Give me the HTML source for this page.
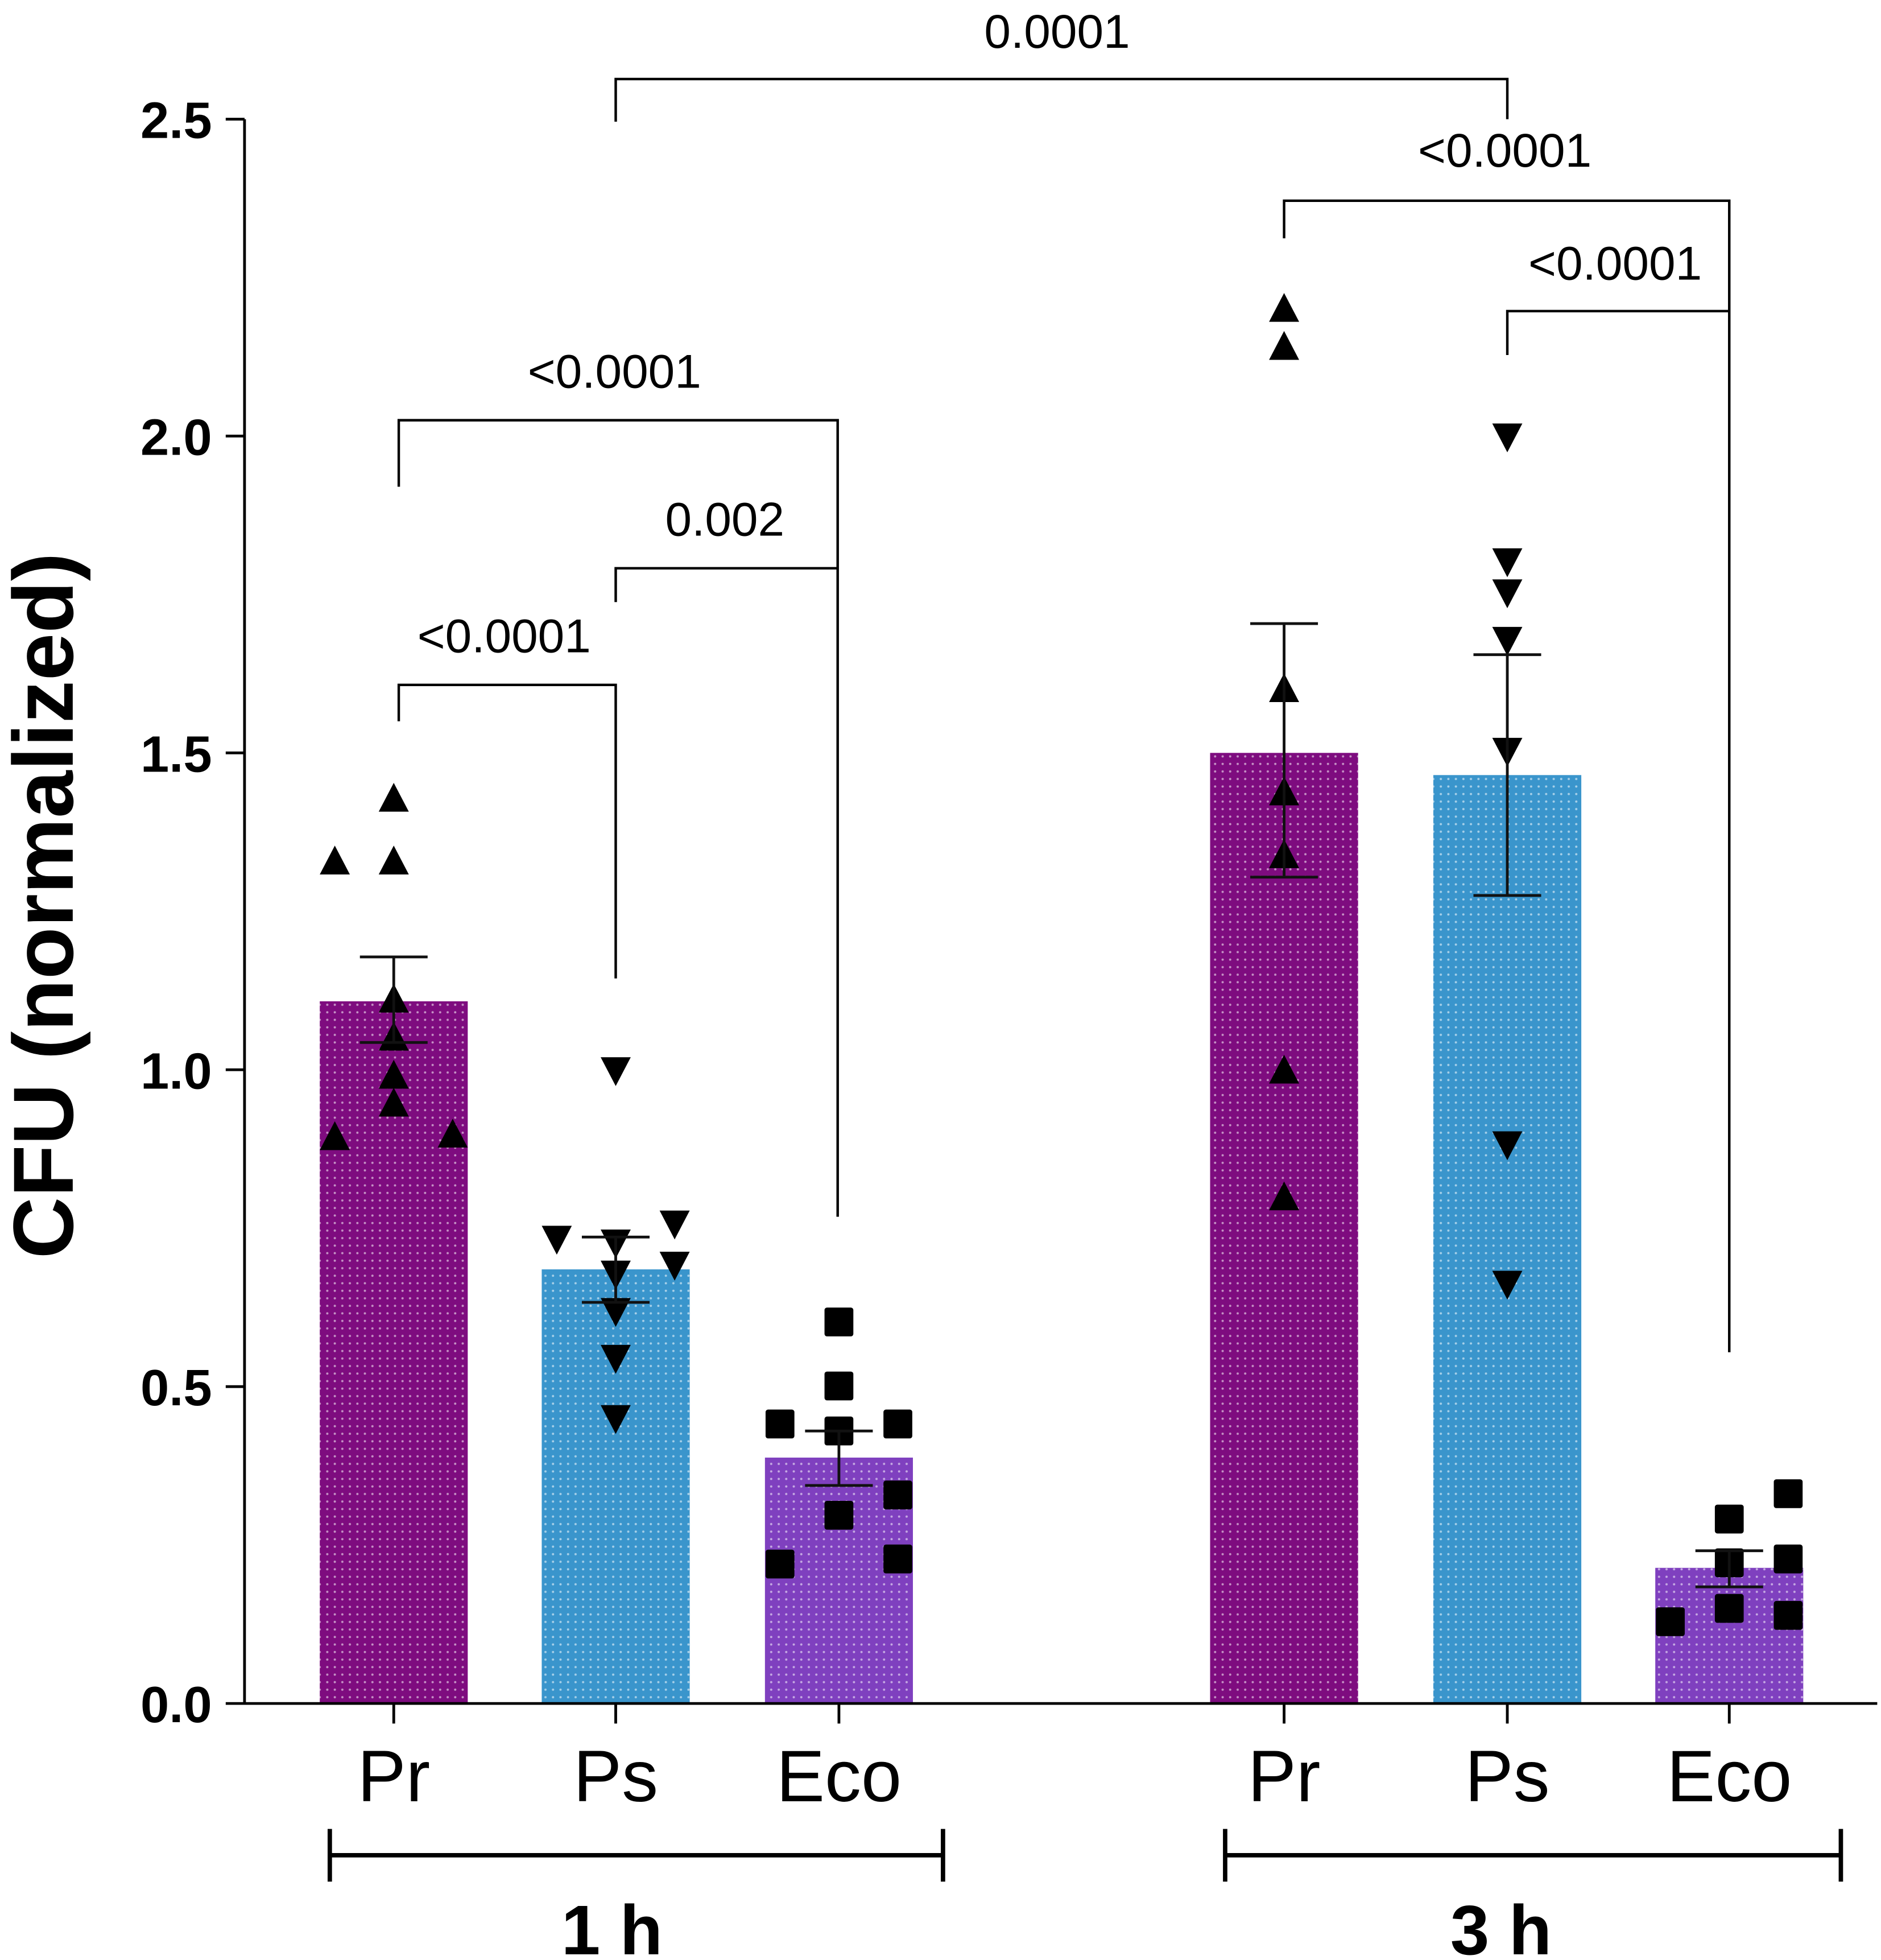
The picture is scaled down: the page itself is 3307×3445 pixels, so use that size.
<!DOCTYPE html>
<html><head><meta charset="utf-8"><style>
html,body{margin:0;padding:0;background:#fff;}
svg{display:block;}
text{font-family:"Liberation Sans",Arial,sans-serif;}
</style></head>
<body>
<svg id="chart" width="3307" height="3445" viewBox="0 0 1500 1562.5" preserveAspectRatio="none" xmlns="http://www.w3.org/2000/svg">
<defs>
<pattern id="dots" width="6" height="6" patternUnits="userSpaceOnUse"><circle cx="3" cy="3" r="0.9" fill="#ffffff" fill-opacity="0.55"/></pattern>
</defs>
<g id="g"></g>
</svg>
<script>
const categories = ["Pr","Ps","Eco","Pr","Ps","Eco"];
const groups = ["1 h","3 h"];
const means = [1.108, 0.685, 0.388, 1.500, 1.465, 0.214];
const semUpper = [1.178, 0.736, 0.430, 1.704, 1.655, 0.241];
const semLower = [1.043, 0.633, 0.344, 1.304, 1.275, 0.184];
const pointsPr1 = [1.427,1.328,1.328,1.110,1.050,0.990,0.946,0.893,0.897];
const jitterPr1 = [0,-1,0,0,0,0,0,-1,1];
const pointsPs1 = [1.000,0.734,0.728,0.758,0.693,0.679,0.620,0.546,0.451];
const jitterPs1 = [0,-1,0,1,1,0,0,0,0];
const pointsEco1 = [0.602,0.501,0.441,0.441,0.430,0.329,0.297,0.220,0.228];
const jitterEco1 = [0,0,-1,1,0,1,0,-1,1];
const pointsPr3 = [2.200,2.140,1.600,1.437,1.338,0.998,0.798];
const jitterPr3 = [0,0,0,0,0,0,0];
const pointsPs3 = [2.000,1.803,1.754,1.679,1.504,0.883,0.663];
const jitterPs3 = [0,0,0,0,0,0,0];
const pointsEco3 = [0.291,0.331,0.222,0.228,0.150,0.129,0.139];
const jitterEco3 = [0,1,0,1,0,-1,1];
const yTicks = [0.0,0.5,1.0,1.5,2.0,2.5];
const pLabels = ["0.0001","<0.0001","<0.0001","<0.0001","0.002","<0.0001"];

const NS="http://www.w3.org/2000/svg";
const g=document.getElementById('g');
const centers=[314,491,669,1024,1202,1379];
const x=i=>centers[i];
const y=v=>1358-v*505.2;
function el(tag,attrs,parent){const e=document.createElementNS(NS,tag);for(const k in attrs)e.setAttribute(k,attrs[k]);(parent||g).appendChild(e);return e;}
const colors=["#7e0c7f","#3a95cc","#7f40bf","#7e0c7f","#3a95cc","#7f40bf"];
const halfW=59;
means.forEach((m,i)=>{
  const b=el('rect',{x:x(i)-halfW,y:y(m),width:halfW*2,height:y(0)-y(m),fill:colors[i]});
  
  
  const d=el('rect',{x:x(i)-halfW,y:y(m),width:halfW*2,height:y(0)-y(m),fill:"url(#dots)"});
  
  
});
const sets=[[pointsPr1,jitterPr1,'up'],[pointsPs1,jitterPs1,'down'],[pointsEco1,jitterEco1,'sq'],[pointsPr3,jitterPr3,'up'],[pointsPs3,jitterPs3,'down'],[pointsEco3,jitterEco3,'sq']];
sets.forEach((s,i)=>{
  s[0].forEach((v,j)=>{
    const cx=x(i)+s[1][j]*47, cy=y(v);
    let p;
    if(s[2]==='up') p=el('polygon',{points:`${cx},${cy-13} ${cx-12},${cy+10} ${cx+12},${cy+10}`,fill:"#000"});
    else if(s[2]==='down') p=el('polygon',{points:`${cx},${cy+13} ${cx-12},${cy-10} ${cx+12},${cy-10}`,fill:"#000"});
    else p=el('rect',{x:cx-11.5,y:cy-11.5,width:23,height:23,rx:2,fill:"#000"});
    
    
  });
});
means.forEach((m,i)=>{
  const e=el('path',{d:`M${x(i)},${y(semLower[i])}V${y(semUpper[i])}M${x(i)-27},${y(semUpper[i])}H${x(i)+27}M${x(i)-27},${y(semLower[i])}H${x(i)+27}`,stroke:"#111",'stroke-width':2.2,fill:"none"});
  
  
});
const ax=el('path',{d:`M195,${y(2.5)}V1358H1497`,stroke:"#000",'stroke-width':2.2,fill:"none"});


yTicks.forEach(t=>{
  const tk=el('line',{x1:180,x2:195,y1:y(t),y2:y(t),stroke:"#000",'stroke-width':2.2});
  
  
  const tl=el('text',{x:169,y:y(t)+15,'text-anchor':'end','font-size':41,'font-weight':'bold'});
  tl.textContent=t.toFixed(1);
  
  
});
categories.forEach((c,i)=>{
  const tk=el('line',{x1:x(i),x2:x(i),y1:1358,y2:1374,stroke:"#000",'stroke-width':2.2});
  
  
  const t=el('text',{x:x(i),y:1436,'text-anchor':'middle','font-size':58});
  t.textContent=c;
  
  
});
[[263,752,488],[977,1468,1197]].forEach((gr,k)=>{
  const l=el('path',{d:`M${gr[0]},1458V1500M${gr[0]},1479H${gr[1]}M${gr[1]},1458V1500`,stroke:"#000",'stroke-width':3.5,fill:"none"});
  
  
  const t=el('text',{x:gr[2],y:1558,'text-anchor':'middle','font-size':56,'font-weight':'bold'});
  t.textContent=groups[k];
  
  
});
const yt=el('text',{x:0,y:0,'text-anchor':'middle','font-size':68,'font-weight':'bold',transform:'translate(58,722) rotate(-90)'});
yt.textContent="CFU (normalized)";


const br=[[491,97,1202,95,63,843,38],[1024,190,1379,1078,160,1200,133],[1202,283,1379,248,248,1288,223],[318,388,668,970,335,490,309],[491,480,668,453,453,578,427],[318,575,491,780,546,402,520]];
br.forEach((b,k)=>{
  const p=el('path',{d:`M${b[0]},${b[1]}V${b[4]}H${b[2]}V${b[3]}`,stroke:"#000",'stroke-width':2,fill:"none"});
  
  
  const t=el('text',{x:b[5],y:b[6],'text-anchor':'middle','font-size':38});
  t.textContent=pLabels[k];
  
  
});
</script>
</body></html>
